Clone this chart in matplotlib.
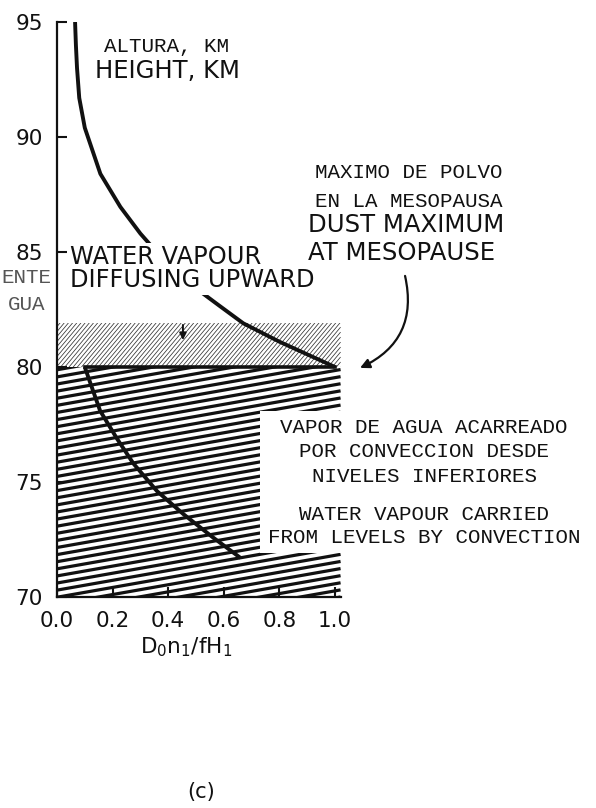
import numpy as np
import matplotlib
matplotlib.use('Agg')
import matplotlib.pyplot as plt
from matplotlib.patches import Polygon, Rectangle
from matplotlib.collections import LineCollection

W, H = 596, 808

# height profiles (km) against D0 n1 / f H1
upper_x = [0.065, 0.068, 0.072, 0.080, 0.100, 0.156, 0.228, 0.300, 0.384, 0.480, 0.580, 0.670, 0.800, 0.900, 1.000]
upper_y = [95.0, 94.0, 93.0, 91.7, 90.4, 88.4, 86.96, 85.8, 84.65, 83.6, 82.7, 81.9, 81.1, 80.55, 80.0]
lower_x = [0.10, 0.12, 0.155, 0.215, 0.275, 0.36, 0.455, 0.56, 0.66]
lower_y = [80.0, 79.3, 78.1, 76.9, 75.8, 74.6, 73.6, 72.6, 71.7]
mesopause_x = [0.10, 1.0]
mesopause_y = [80.0, 80.0]
diffusion_band = (80.0, 81.9)
convection_band = (70.0, 80.0)
x_ticks = [0.0, 0.2, 0.4, 0.6, 0.8, 1.0]
y_ticks = [70, 75, 80, 85, 90, 95]

sans = 'DejaVu Sans'
mono = 'Liberation Mono'
ink = '#111111'


def fpos(x, y):
    # pixel position -> figure fraction
    return x / W, 1 - y / H


def hatch(ax, xs, ys, angle, gap, lw, color, zorder):
    poly = Polygon(np.column_stack([xs, ys]), closed=True, fc='none', ec='none')
    ax.add_patch(poly)
    (x0, y0), (x1, y1) = ax.transData.transform([(0, 0), (1, 1)])
    sx, sy = x1 - x0, y1 - y0
    t = np.radians(angle)
    k = np.tan(t) * sx / sy
    step = gap / np.cos(t) / sy
    xa, xb = min(xs), max(xs)
    ya, yb = min(ys), max(ys)
    segs = [[(xa, c), (xb, c + k * (xb - xa))]
            for c in np.arange(ya - k * (xb - xa), yb + step, step)]
    lc = LineCollection(segs, colors=color, linewidths=lw, zorder=zorder)
    lc.set_clip_path(poly)
    ax.add_collection(lc)


fig = plt.figure(figsize=(W / 100, H / 100), dpi=100)
ax = fig.add_axes([57 / W, 1 - 597 / H, 283.56 / W, 575 / H])
ax.set_xlim(0, 1.02)
ax.set_ylim(70, 95)

for s in ['top', 'right']:
    ax.spines[s].set_visible(False)
for s in ['left', 'bottom']:
    ax.spines[s].set_linewidth(1.6)
    ax.spines[s].set_color(ink)

ax.set_xticks(x_ticks)
ax.set_xticklabels(['%.1f' % v for v in x_ticks])
ax.set_yticks(y_ticks)
ax.tick_params(direction='in', length=7, width=1.5, colors=ink, labelsize=15.5, pad=10)

# shaded layers
b0, b1 = convection_band
hatch(ax, [0, 1.02, 1.02, 0], [b0, b0, b1, b1], 10, 7.0, 2.3, ink, 1)
d0, d1 = diffusion_band
hatch(ax, [0, 1.02, 1.02, 0], [d0, d0, d1, d1], 50, 3.2, 0.55, '#333333', 1)
ax.add_patch(Rectangle((0.73, 71.91), 0.30, 6.18, fc='white', ec='none', zorder=1.5))

ax.plot(upper_x, upper_y, color=ink, lw=2.8, solid_capstyle='butt', zorder=3)
ax.plot(lower_x, lower_y, color=ink, lw=2.8, solid_capstyle='butt', zorder=3)
ax.plot(mesopause_x, mesopause_y, color=ink, lw=2.6, zorder=3)

# small arrow for upward diffusion
ax.annotate('', xy=(0.453, 81.05), xytext=(0.453, 81.95),
            arrowprops=dict(arrowstyle='-|>', color=ink, lw=1.4, mutation_scale=10),
            zorder=4)
# curved pointer to the dust maximum
ax.annotate('', xy=(1.09, 79.96), xytext=(1.252, 83.96), annotation_clip=False,
            arrowprops=dict(arrowstyle='-|>', color=ink, lw=1.6, mutation_scale=14,
                            connectionstyle='arc3,rad=-0.4', shrinkA=0, shrinkB=0))

# labels
fig.text(*fpos(70, 287), 'WATER VAPOUR\nDIFFUSING UPWARD', family=sans, fontsize=17.4,
         color=ink, ha='left', va='baseline', linespacing=0.93,
         bbox=dict(fc='white', ec='none', pad=2))
fig.text(*fpos(166, 52), 'ALTURA, KM', family=mono, fontsize=15, color=ink, ha='center', va='baseline')
fig.text(*fpos(167, 78), 'HEIGHT, KM', family=sans, fontsize=17.5, color=ink, ha='center', va='baseline')

fig.text(*fpos(409, 178), 'MAXIMO DE POLVO', family=mono, fontsize=15, color=ink, ha='center', va='baseline')
fig.text(*fpos(409, 207), 'EN LA MESOPAUSA', family=mono, fontsize=15, color=ink, ha='center', va='baseline')
fig.text(*fpos(308, 232), 'DUST MAXIMUM', family=sans, fontsize=17.6, color=ink, ha='left', va='baseline')
fig.text(*fpos(308, 260), 'AT MESOPAUSE', family=sans, fontsize=17.6, color=ink, ha='left', va='baseline')

for txt, y in [('VAPOR DE AGUA ACARREADO', 433), ('POR CONVECCION DESDE', 457),
               ('NIVELES INFERIORES', 482), ('WATER VAPOUR CARRIED', 520),
               ('FROM LEVELS BY CONVECTION', 543)]:
    fig.text(*fpos(424, y), txt, family=mono, fontsize=15, color=ink, ha='center', va='baseline')

# trailing ends of labels from the neighbouring panel
fig.text(*fpos(51, 283), 'ENTE', family=mono, fontsize=15, color='#555555', ha='right', va='baseline')
fig.text(*fpos(45, 310), 'GUA', family=mono, fontsize=15, color='#555555', ha='right', va='baseline')

fig.text(*fpos(186, 653), r'$\mathregular{D_0n_1/fH_1}$', family=sans, fontsize=15.5,
         color=ink, ha='center', va='baseline')
fig.text(*fpos(201, 792), '(c)', family=sans, fontsize=15, color=ink, ha='center', va='center')

fig.savefig('out.png', dpi=100, facecolor='white')
